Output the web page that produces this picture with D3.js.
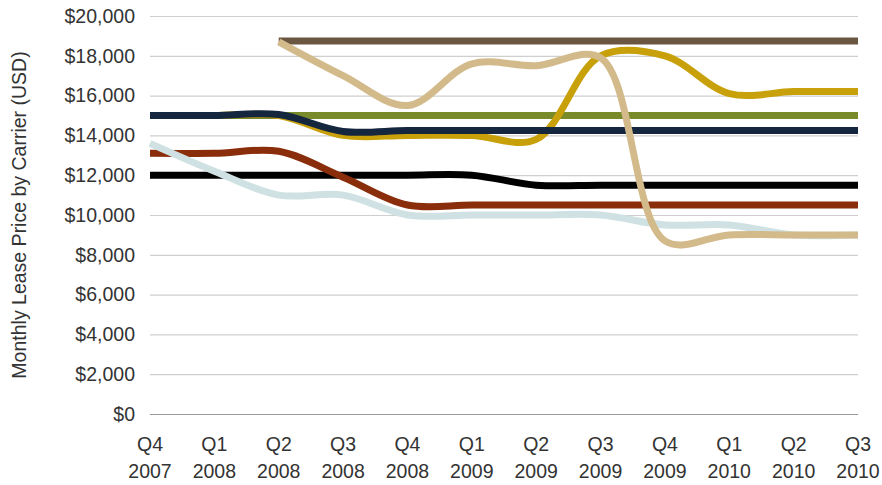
<!DOCTYPE html>
<html>
<head>
<meta charset="utf-8">
<script src="https://cdn.jsdelivr.net/npm/d3@7"></script>
<style>
  body { margin: 0; background: #fff; }
  svg text { font-family: "Liberation Sans", Helvetica, Arial, sans-serif; fill: #333; }
</style>
</head>
<body>
<svg id="chart" width="882" height="485"></svg>
<script>
// quarters (two-line labels)
const quarters = ["Q4", "Q1", "Q2", "Q3", "Q4", "Q1", "Q2", "Q3", "Q4", "Q1", "Q2", "Q3"];
const years = ["2007", "2008", "2008", "2008", "2008", "2009", "2009", "2009", "2009", "2010", "2010", "2010"];

// one array per carrier (USD per month), null = no lease yet
const blackLine = [12000, 12000, 12000, 12000, 12000, 12000, 11500, 11500, 11500, 11500, 11500, 11500];
const redLine = [13100, 13100, 13200, 11900, 10500, 10500, 10500, 10500, 10500, 10500, 10500, 10500];
const paleBlueLine = [13600, 12200, 11000, 11000, 10000, 10000, 10000, 10000, 9500, 9500, 9000, 9000];
const greenLine = [15000, 15000, 15000, 15000, 15000, 15000, 15000, 15000, 15000, 15000, 15000, 15000];
const goldLine = [15000, 15000, 15000, 14000, 14000, 14000, 13800, 18000, 18000, 16100, 16200, 16200];
const navyLine = [15000, 15000, 15050, 14200, 14250, 14250, 14250, 14250, 14250, 14250, 14250, 14250];
const brownLine = [null, null, 18750, 18750, 18750, 18750, 18750, 18750, 18750, 18750, 18750, 18750];
const tanLine = [null, null, 18700, 17000, 15500, 17600, 17500, 17900, 8700, 9000, 9000, 9000];

const yTicks = [0, 2000, 4000, 6000, 8000, 10000, 12000, 14000, 16000, 18000, 20000];

// draw order (later on top)
const series = [
  { values: blackLine, color: "#000000" },
  { values: redLine, color: "#8a2d0b" },
  { values: paleBlueLine, color: "#cfe1e2" },
  { values: greenLine, color: "#788a2a" },
  { values: goldLine, color: "#c8a00a" },
  { values: navyLine, color: "#15263f" },
  { values: brownLine, color: "#6b5741" },
  { values: tanLine, color: "#d3ba8b" }
];

const svg = d3.select("#chart"),
      margin = { top: 16, right: 24, bottom: 71, left: 150 },
      width = +svg.attr("width") - margin.left - margin.right,
      height = +svg.attr("height") - margin.top - margin.bottom;

const g = svg.append("g").attr("transform", `translate(${margin.left},${margin.top})`);

const x = d3.scalePoint()
            .domain(d3.range(quarters.length))
            .range([0, width]);

const y = d3.scaleLinear()
            .domain([0, 20000])
            .range([height, 0]);

// gridlines + y labels
const yAxis = g.append("g")
  .call(d3.axisLeft(y)
    .tickValues(yTicks)
    .tickSize(-width)
    .tickPadding(15)
    .tickFormat(d => "$" + d3.format(",")(d)));
yAxis.select(".domain").remove();
yAxis.selectAll(".tick line")
  .attr("stroke", d => d === 0 ? "#999" : "#cfcfcf")
  .attr("stroke-width", 1.2);
yAxis.selectAll(".tick text")
  .attr("font-size", 19.5)
  .attr("fill", "#333");

// x labels
const xAxis = g.append("g").attr("transform", `translate(0,${height})`);
const xt = xAxis.selectAll("text")
  .data(d3.range(quarters.length))
  .enter()
  .append("text")
  .attr("text-anchor", "middle")
  .attr("font-size", 19.5)
  .attr("x", d => x(d));
xt.append("tspan").attr("x", d => x(d)).attr("y", 37).text(d => quarters[d]);
xt.append("tspan").attr("x", d => x(d)).attr("y", 64).text(d => years[d]);

// y title
svg.append("text")
  .attr("transform", `translate(26,${margin.top + height / 2}) rotate(-90)`)
  .attr("text-anchor", "middle")
  .attr("font-size", 19.5)
  .text("Monthly Lease Price by Carrier (USD)");

// lines
const line = d3.line()
  .defined(d => d != null)
  .x((d, i) => x(i))
  .y(d => y(d))
  .curve(d3.curveCatmullRom.alpha(0.5));

g.selectAll(".carrier")
  .data(series)
  .enter()
  .append("path")
  .attr("class", "carrier")
  .attr("d", d => line(d.values))
  .attr("fill", "none")
  .attr("stroke", d => d.color)
  .attr("stroke-width", 7)
  .attr("stroke-linejoin", "round");
</script>
</body>
</html>
